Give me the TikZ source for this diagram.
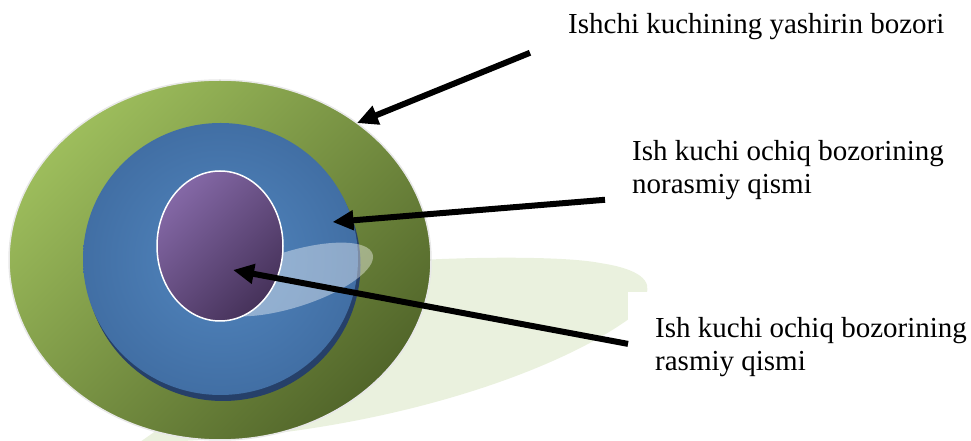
\documentclass[tikz,border=0pt]{standalone}
\usepackage{fontspec}
\setmainfont{Liberation Serif}
\usepackage{tikz}
\usetikzlibrary{arrows.meta}
\usetikzlibrary{shapes.geometric}

\definecolor{paleGrn}{RGB}{234,241,222}
\definecolor{grnLight}{RGB}{157,189,92}
\definecolor{grnDark}{RGB}{82,102,42}
\definecolor{ringEdge}{RGB}{232,232,232}
\definecolor{blueIn}{RGB}{74,123,178}
\definecolor{blueOut}{RGB}{52,92,143}
\definecolor{blueShade}{RGB}{38,64,105}
\definecolor{purpLight}{RGB}{132,104,166}
\definecolor{purpDark}{RGB}{70,50,90}
\pgfdeclareradialshading{blueglow}{\pgfpoint{0bp}{0bp}}{color(0bp)=(blueIn); color(12bp)=(blueIn); color(45bp)=(blueOut); color(50bp)=(blueOut)}

\begin{document}
\begin{tikzpicture}[x=1pt, y=1pt,
    ring/.style={ellipse, inner sep=0pt, outer sep=0pt},
    lbl/.style={inner sep=0pt, anchor=north west, align=left, font=\fontsize{29}{33}\selectfont},
    arr/.style={line width=6pt, -{Triangle[length=21pt, width=19pt]}}]
\useasboundingbox (0,0) rectangle (971,441);
\fill[paleGrn] (380,178) .. controls (440,184) and (560,186) .. (600,178)
    .. controls (640,172) and (652,160) .. (646,146)
    .. controls (640,132) and (632,124) .. (626,120)
    .. controls (540,60) and (350,0) .. (140,-1) -- (170,20) -- cycle;
\node[ring, minimum width=422pt, minimum height=360pt, draw=ringEdge, line width=1.5pt,
    top color=grnLight, bottom color=grnDark, shading angle=45] (outer) at (220,181) {};
\fill[blueShade] (223,176) ellipse [x radius=137.5, y radius=136];
\node[ring, minimum width=275pt, minimum height=272pt, shading=blueglow] (blue) at (220.5,182) {};
\fill[white, opacity=.4, rotate around={17.4:(291.5,161.5)}] (291.5,161.5) ellipse [x radius=85, y radius=28];
\node[ring, minimum width=126pt, minimum height=150pt, draw=white, line width=1.5pt,
    top color=purpLight, bottom color=purpDark, shading angle=45] (core) at (220,195) {};

\coordinate (tipMid) at ([shift={(112,37)}]blue.center);
\coordinate (tipIn) at ([shift={(13,-24)}]core.center);

\node[lbl] (lbl1) at (568,428) {Ishchi kuchining yashirin bozori};
\node[lbl] (lbl2) at (632,301) {Ish kuchi ochiq bozorining\\norasmiy qismi};
\node[lbl, fill=white, inner xsep=27pt, inner ysep=25pt] (lbl3) at (628,149) {Ish kuchi ochiq bozorining\\rasmiy qismi};

\draw[arr] ([shift={(-38,-13)}]lbl1.south west) -- (outer.45);
\draw[arr] ([xshift=-27pt]lbl2.south west) -- (tipMid);
\draw[arr] ([yshift=3pt]lbl3.west) -- (tipIn);
\end{tikzpicture}
\end{document}
